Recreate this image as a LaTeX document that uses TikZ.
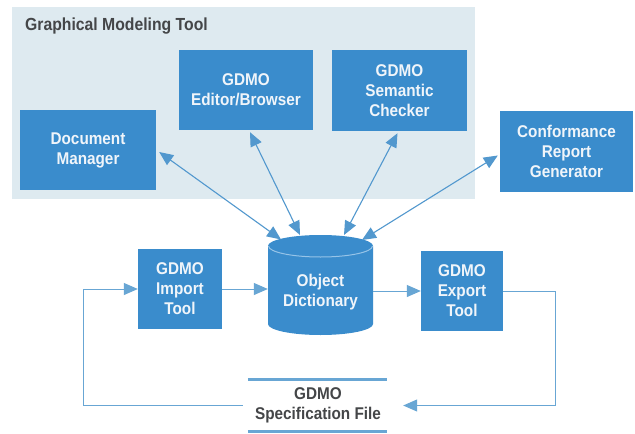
\documentclass[tikz,border=0pt]{standalone}
\usepackage{fontspec}
\setmainfont{Liberation Sans}[FakeStretch=0.9]
\usetikzlibrary{arrows.meta,calc}
\definecolor{boxblue}{RGB}{58,140,204}
\definecolor{panelbg}{RGB}{222,234,240}
\definecolor{linkblue}{RGB}{82,152,206}
\definecolor{loopblue}{RGB}{104,166,212}
\definecolor{boxtext}{RGB}{240,245,250}
\definecolor{darktext}{RGB}{68,70,72}
\definecolor{rimblue}{RGB}{150,196,232}
\begin{document}
\begin{tikzpicture}[x=1pt,y=-1pt,
  blk/.style={rectangle, fill=boxblue, text=boxtext, font=\bfseries\fontsize{17}{20}\selectfont, align=center, inner sep=0pt},
  link/.style={draw=linkblue, line width=1.1pt, {Triangle[length=14pt,width=12pt]}-{Triangle[length=14pt,width=12pt]}},
  flow/.style={draw=loopblue, line width=1pt, -{Triangle[length=14pt,width=12pt]}},
  specline/.style={draw=loopblue, line width=3pt},
  rim/.style={draw=rimblue, line width=1pt},
  lbl/.style={text=darktext, font=\bfseries\fontsize{17}{20}\selectfont, align=center, inner sep=0pt}
]
\useasboundingbox (0,0) rectangle (635,434);
\fill[white] (0,0) rectangle (635,434);
% panel
\fill[panelbg] (12,7) rectangle (475,199);
\node[lbl, anchor=west, font=\bfseries\fontsize{17.5}{20}\selectfont] (title) at (25,26) {Graphical Modeling Tool};
% boxes
\node[blk, minimum width=136pt, minimum height=80pt] (dm) at (88,150) {Document\\Manager};
\node[blk, minimum width=134pt, minimum height=80pt] (ed) at (246,90) {GDMO\\Editor/Browser};
\node[blk, minimum width=135pt, minimum height=81pt] (sc) at (399.5,90.5) {GDMO\\Semantic\\Checker};
\node[blk, minimum width=133pt, minimum height=81pt] (cr) at (566.5,151.5) {Conformance\\Report\\Generator};
\node[blk, minimum width=84pt, minimum height=80pt] (imp) at (180,289) {GDMO\\Import\\Tool};
\node[blk, minimum width=82pt, minimum height=80pt] (exp) at (462,291) {GDMO\\Export\\Tool};
% cylinder
\fill[boxblue] (268,246) -- (268,324) arc (180:0:52.5 and 11) -- (373,246) arc (0:-180:52.5 and 11) -- cycle;
\draw[rim] (268.5,246) arc (180:0:52 and 11);
\node[rectangle, inner sep=0pt, minimum width=105pt, minimum height=100pt, text=boxtext,
      font=\bfseries\fontsize{17}{20}\selectfont, align=center] (od) at (320.5,292) {Object\\Dictionary};
\coordinate (c1) at (281,239.5);
\coordinate (c2) at (300,235);
\coordinate (c3) at (344,235);
\coordinate (c4) at (362,240);
% links
\draw[link] ($(dm.east)+(3,2)$) -- (c1);
\draw[link] ($(ed.south)+(4,2)$) -- (c2);
\draw[link] ($(sc.south)+(-2,2)$) -- (c3);
\draw[link] ($(cr.west)+(-2,4)$) -- (c4);
% spec file
\node[lbl, minimum width=150pt, minimum height=51pt] (spec) at (318,405.5) {GDMO\\Specification File};
\draw[specline] ($(spec.north west)+(5,0)$) -- ($(spec.north east)+(-6,0)$);
\draw[specline] ($(spec.south west)+(5,0)$) -- ($(spec.south east)+(-6,0)$);
% flow
\draw[flow] (imp.east) -- (imp.east -| od.west);
\draw[flow] (od.east |- exp.west) -- (exp.west);
\draw[flow] (spec.west) -| ($(imp.west)+(-54,0)$) -- (imp.west);
\draw[flow] (exp.east) -- ++(52,0) |- ($(spec.east)+(10,0)$);
\end{tikzpicture}
\end{document}
